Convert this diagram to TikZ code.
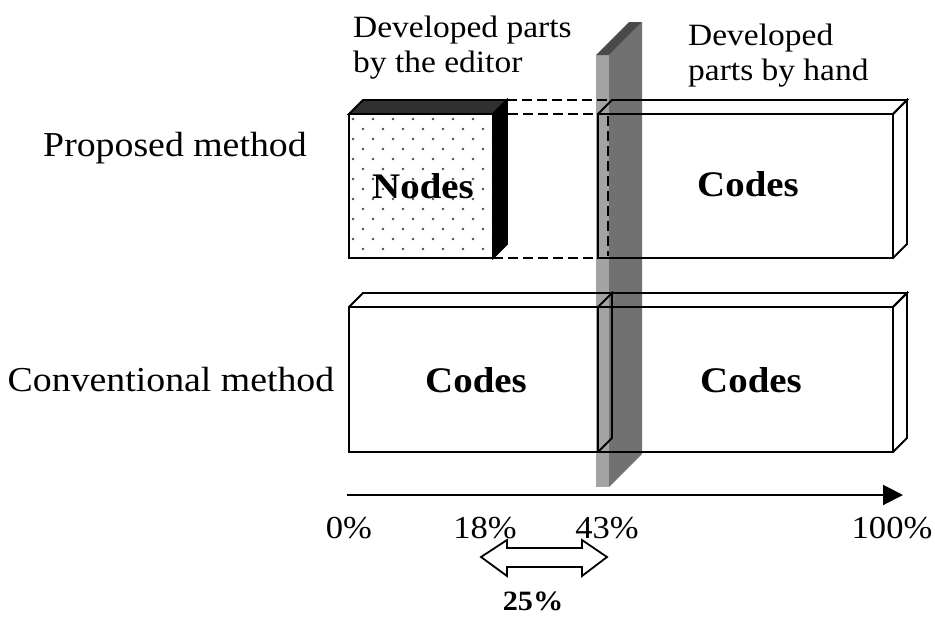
\documentclass[tikz,border=0pt]{standalone}
\usepackage{fontspec}
\setmainfont{Liberation Serif}[FakeStretch=1.08]
\usetikzlibrary{arrows.meta}
\definecolor{barfront}{HTML}{A3A3A3}
\definecolor{barside}{HTML}{717171}
\definecolor{bartop}{HTML}{4A4A4A}
\definecolor{nodetop}{HTML}{303030}
\definecolor{dotcol}{HTML}{505050}
\begin{document}
\begin{tikzpicture}[x=1pt,y=-1pt,
  edge/.style={line width=1.8pt, line join=miter},
  hid/.style={line width=1.8pt, dash pattern=on 10pt off 5pt},
  lab/.style={font=\fontsize{35}{40}\selectfont, inner sep=0pt},
  dev/.style={font=\fontsize{31}{35}\selectfont, inner sep=0pt, align=left, anchor=north west},
  bold/.style={font=\fontsize{36}{40}\selectfont\bfseries, inner sep=0pt},
  pct/.style={font=\fontsize{32}{36}\selectfont, inner sep=0pt, anchor=base}]
\useasboundingbox (0,0) rectangle (935,619);
% gray bar
\fill[barside] (609,55) -- (642,22) -- (642,454) -- (609,487) -- cycle;
\fill[barfront] (596,55) rectangle (609,487);
\fill[bartop] (596,55) -- (609,55) -- (642,22) -- (629,22) -- cycle;
% Nodes box (dotted)
\fill[white] (349,114) rectangle (493,258);
\begin{scope}
  \clip (349,114) rectangle (493,258);
  \foreach \r in {0,...,14}{
    \foreach \c in {0,...,7}{
      \fill[dotcol] ({353+20*\c+10*mod(\r,2)},{119+10*\r}) circle (1.4);
    }
  }
\end{scope}
\draw[edge] (349,114) rectangle (493,258);
\filldraw[edge, fill=nodetop] (349,114) -- (363,100) -- (507,100) -- (493,114) -- cycle;
\filldraw[edge, fill=black] (493,114) -- (507,100) -- (507,244) -- (493,258) -- cycle;
% dashed links
\draw[hid] (507,100) -- (612,100);
\draw[hid] (493,114) -- (598,114);
\draw[hid] (493,258) -- (598,258);
\draw[hid] (608,116) -- (608,256);
% Codes box (proposed)
\draw[edge] (598,114) rectangle (893,258);
\draw[edge] (598,114) -- (612,100) -- (907,100) -- (893,114);
\draw[edge] (893,114) -- (907,100) -- (907,244) -- (893,258);
% Conventional boxes
\draw[edge] (349,307) rectangle (598,452);
\draw[edge] (598,307) rectangle (893,452);
\draw[edge] (349,307) -- (363,293) -- (907,293) -- (893,307);
\draw[edge] (598,307) -- (612,293) -- (612,438) -- (598,452);
\draw[edge] (893,307) -- (907,293) -- (907,438) -- (893,452);
% texts
\node[lab] (prop) at (175,148) {Proposed method};
\node[lab] (conv) at (171,380) {Conventional method};
\node[dev] (devEd) at (353,16) {Developed parts\\by the editor};
\node[dev] (devHand) at (688,24) {Developed\\parts by hand};
\node[bold] (nodesT) at (423,186) {Nodes};
\node[bold] (codesA) at (748,184) {Codes};
\node[bold] (codesB) at (476,380) {Codes};
\node[bold] (codesC) at (751,380) {Codes};
% axis
\coordinate (ax0) at (347,495);
\coordinate (ax1) at (903,495);
\draw[line width=2pt, -{Triangle[length=20pt,width=20pt]}] (ax0) -- (ax1);
\node[pct] (p0) at (349,538) {0\%};
\node[pct] (p18) at (485,538) {18\%};
\node[pct] (p43) at (607,538) {43\%};
\node[pct] (p100) at (892,538) {100\%};
% double arrow
\filldraw[edge, fill=white] (481,557) -- (507,540) -- (507,548) -- (582,548) -- (582,540) -- (607,557)
  -- (582,576) -- (582,567) -- (507,567) -- (507,576) -- cycle;
\node[font=\fontsize{28}{32}\selectfont\bfseries, inner sep=0pt, anchor=base] (p25) at (533,610) {25\%};
\end{tikzpicture}
\end{document}
